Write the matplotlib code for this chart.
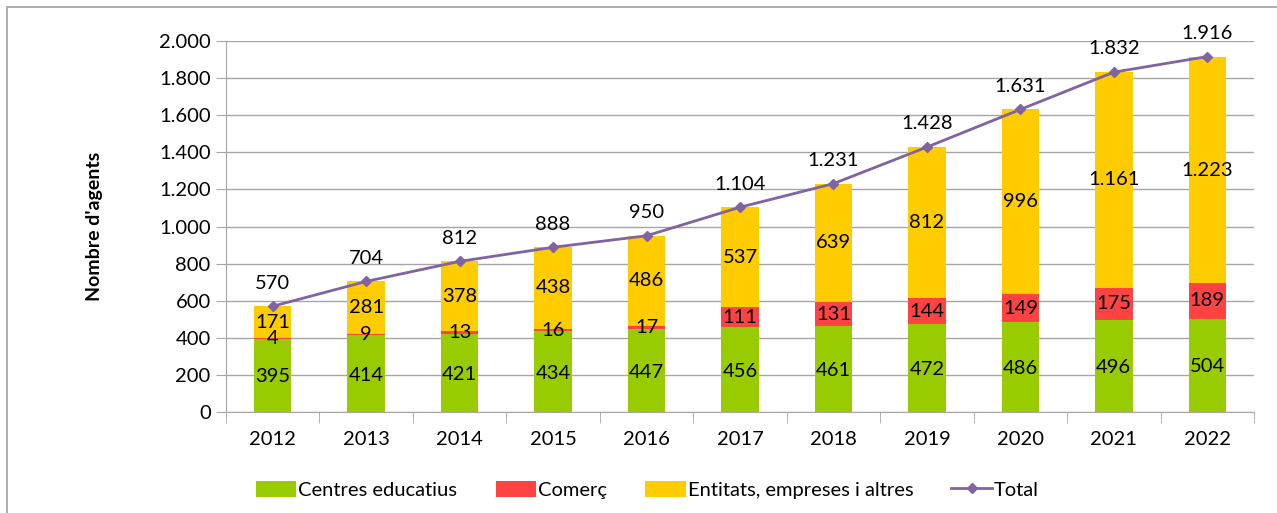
import matplotlib
matplotlib.use("Agg")
import matplotlib.pyplot as plt
import numpy as np
from matplotlib.patches import Rectangle

years = ["2012", "2013", "2014", "2015", "2016", "2017", "2018", "2019", "2020", "2021", "2022"]
centres = [395, 414, 421, 434, 447, 456, 461, 472, 486, 496, 504]
comerc = [4, 9, 13, 16, 17, 111, 131, 144, 149, 175, 189]
entitats = [171, 281, 378, 438, 486, 537, 639, 812, 996, 1161, 1223]
total = [570, 704, 812, 888, 950, 1104, 1231, 1428, 1631, 1832, 1916]

C_GREEN = "#99CC00"
C_RED = "#FF4343"
C_YELLOW = "#FFCC00"
C_PURPLE = "#8064A2"
GRID = "#A6A6A6"

plt.rcParams['font.family'] = ['Lato', 'DejaVu Sans']

def fmt(v):
    return f"{v:,}".replace(",", ".")

W, H = 1277, 513
fig = plt.figure(figsize=(W/100, H/100), dpi=100)
fig.patches.append(Rectangle((7/W, -0.1), 1.2, 1 - 7/H + 0.1, transform=fig.transFigure,
                             fill=False, edgecolor="#A0A0A0", linewidth=1.2))
ax = fig.add_axes([226/W, 1 - 412/H, (1254-226)/W, (412-41)/H])

x = np.arange(len(years))
bw = 0.40
c = np.array(centres); r = np.array(comerc); e = np.array(entitats)
ax.bar(x, c, bw, color=C_GREEN, label="Centres educatius", zorder=2)
ax.bar(x, r, bw, bottom=c, color=C_RED, label="Comerç", zorder=2)
ax.bar(x, e, bw, bottom=c + r, color=C_YELLOW, label="Entitats, empreses i altres", zorder=2)
ax.plot(x, total, color=C_PURPLE, marker="D", markersize=5, linewidth=2, label="Total", zorder=3)

fs = 14.5
for i in range(len(years)):
    ax.text(x[i], c[i]/2 - 8, fmt(c[i]), ha="center", va="center", fontsize=fs, zorder=4)
    ax.text(x[i], c[i] + r[i]/2, fmt(r[i]), ha="center", va="center", fontsize=fs, zorder=4)
    ax.text(x[i], c[i] + r[i] + e[i]/2, fmt(e[i]), ha="center", va="center", fontsize=fs, zorder=4)
    ax.text(x[i], total[i] + 125, fmt(total[i]), ha="center", va="center", fontsize=fs, zorder=4)

ax.set_xlim(-0.5, len(years) - 0.5)
ax.set_ylim(0, 2000)
ax.set_yticks(np.arange(0, 2001, 200))
ax.set_yticklabels([fmt(v) for v in range(0, 2001, 200)], fontsize=fs)
ax.set_xticks(x)
ax.set_xticklabels(years, fontsize=fs)
ax.tick_params(axis="x", length=0, pad=14)
ax.set_xticks(np.arange(-0.5, len(years), 1), minor=True)
ax.tick_params(axis="x", which="minor", length=8, color=GRID, direction="out")
ax.tick_params(axis="y", length=7, color=GRID, pad=4)
ax.yaxis.grid(True, color=GRID, linewidth=1, zorder=0)
ax.set_axisbelow(True)
for s in ["top", "right"]:
    ax.spines[s].set_visible(False)
for s in ["left", "bottom"]:
    ax.spines[s].set_color(GRID)
ax.set_ylabel("Nombre d'agents", fontsize=14, fontweight="bold", labelpad=40)

handles, labels = ax.get_legend_handles_labels()
order = [1, 2, 3, 0]
leg = fig.legend([handles[i] for i in order], [labels[i] for i in order],
                 loc="center", bbox_to_anchor=(0.507, 1 - 490/H), ncol=4, frameon=False,
                 fontsize=fs, handlelength=2.0, handleheight=0.8, columnspacing=1.9, handletextpad=0.1)

fig.savefig("out.png", dpi=100)
